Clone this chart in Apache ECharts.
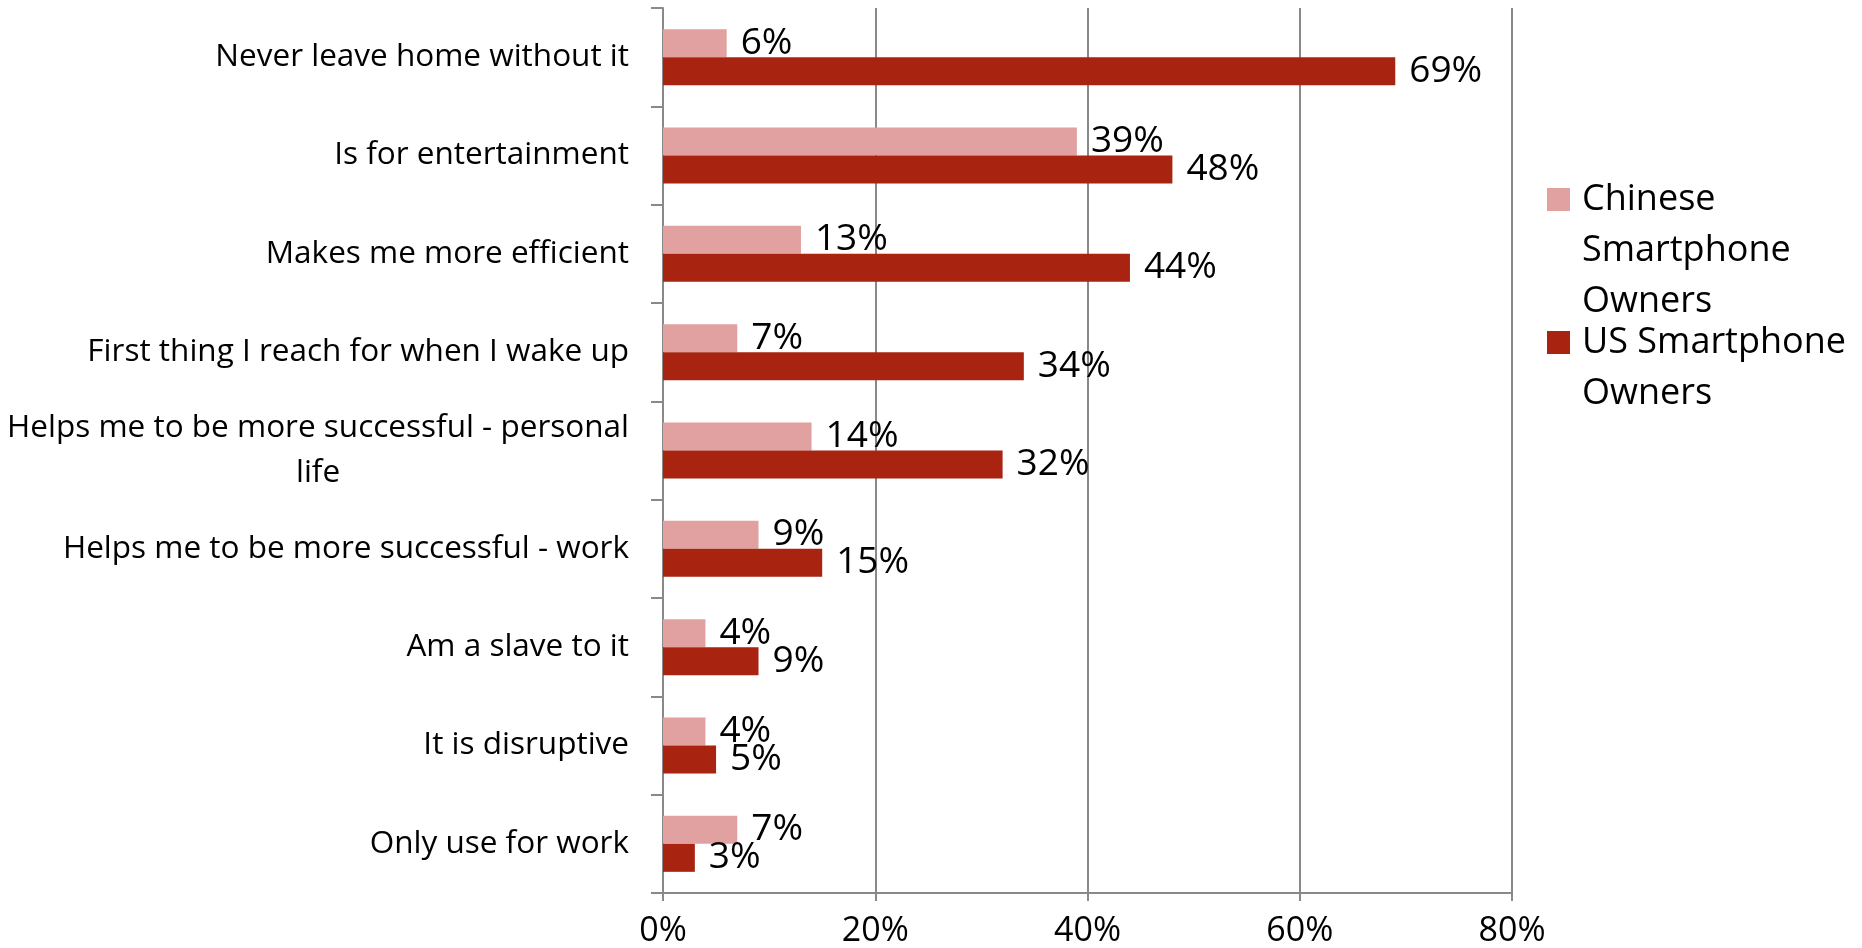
<!DOCTYPE html>
<html>
<head>
<meta charset="utf-8">
<script src="https://cdn.jsdelivr.net/npm/echarts@6/dist/echarts.min.js"></script>
<style>
html,body{margin:0;padding:0;background:#fff;}
#chart{width:1862px;height:948px;}
</style>
</head>
<body>
<div id="chart"></div>
<script>
const categories = [
  "Never leave home without it",
  "Is for entertainment",
  "Makes me more efficient",
  "First thing I reach for when I wake up",
  "Helps me to be more successful - personal life",
  "Helps me to be more successful - work",
  "Am a slave to it",
  "It is disruptive",
  "Only use for work"
];
const seriesNames = ["Chinese Smartphone Owners", "US Smartphone Owners"];
const chineseValues = [6, 39, 13, 7, 14, 9, 4, 4, 7];
const usValues = [69, 48, 44, 34, 32, 15, 9, 5, 3];
const xTicks = { min: 0, max: 80, interval: 20 };

const FONT = "Open Sans";
const chart = echarts.init(document.getElementById('chart'), null, { renderer: 'canvas' });

function wrapCat(v) {
  if (v.length > 40) {
    const i = v.lastIndexOf(' ');
    return '{a|' + v.slice(0, i) + '}\n{b|' + v.slice(i + 1) + '}';
  }
  return '{a|' + v + '}';
}

const labelStyle = {
  show: true,
  position: 'right',
  distance: 14,
  formatter: '{c}%',
  color: '#000',
  fontFamily: FONT,
  fontSize: 37
};

const legendText = { fontFamily: FONT, fontSize: 36, color: '#000', lineHeight: 51, padding: [0, 0, 0, 7] };

chart.setOption({
  animation: false,
  backgroundColor: '#fff',
  grid: { left: 663, right: 350, top: 8, bottom: 55, containLabel: false },
  legend: [
    {
      data: [seriesNames[0]],
      orient: 'vertical',
      left: 1547,
      top: 72,
      padding: 0,
      itemWidth: 23,
      itemHeight: 23,
      icon: 'rect',
      formatter: function () { return '\n\nChinese\nSmartphone\nOwners'; },
      textStyle: legendText
    },
    {
      data: [seriesNames[1]],
      orient: 'vertical',
      left: 1547,
      top: 266,
      padding: 0,
      itemWidth: 23,
      itemHeight: 23,
      icon: 'rect',
      formatter: function () { return '\nUS Smartphone\nOwners'; },
      textStyle: legendText
    }
  ],
  xAxis: {
    type: 'value',
    min: xTicks.min,
    max: xTicks.max,
    interval: xTicks.interval,
    axisLine: { show: true, lineStyle: { color: '#898989', width: 2 } },
    axisTick: { show: true, length: 8, lineStyle: { color: '#898989', width: 2 } },
    splitLine: { show: true, lineStyle: { color: '#898989', width: 2 } },
    axisLabel: { formatter: '{value}%', color: '#000', fontFamily: FONT, fontSize: 34, margin: 21 }
  },
  yAxis: {
    type: 'category',
    data: categories,
    inverse: true,
    axisLine: { show: true, lineStyle: { color: '#898989', width: 2 } },
    axisTick: { show: true, length: 12, lineStyle: { color: '#898989', width: 2 } },
    splitLine: { show: false },
    axisLabel: {
      margin: 34,
      color: '#000',
      fontFamily: FONT,
      fontSize: 31.5,
      formatter: wrapCat,
      rich: {
        a: { fontFamily: FONT, fontSize: 31.5, color: '#000', lineHeight: 45 },
        b: { fontFamily: FONT, fontSize: 31.5, color: '#000', lineHeight: 45, align: 'center' }
      }
    }
  },
  series: [
    {
      name: seriesNames[0],
      type: 'bar',
      data: chineseValues,
      barWidth: 28,
      barGap: '0%',
      itemStyle: { color: '#E0A1A0' },
      label: labelStyle
    },
    {
      name: seriesNames[1],
      type: 'bar',
      data: usValues,
      barWidth: 28,
      barGap: '0%',
      itemStyle: { color: '#A82310' },
      label: labelStyle
    }
  ]
});
</script>
</body>
</html>
